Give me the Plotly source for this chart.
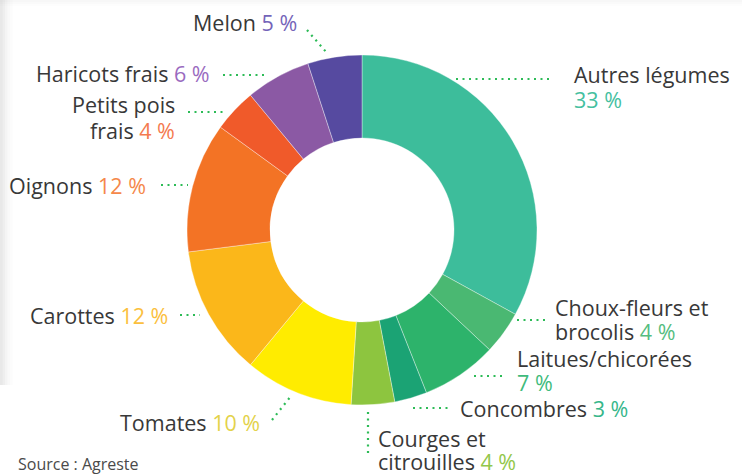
import plotly.graph_objects as go

W, H = 742, 474

# ---- data ----
categories = ["Autres légumes", "Choux-fleurs et brocolis", "Laitues/chicorées", "Concombres",
              "Courges et citrouilles", "Tomates", "Carottes", "Oignons",
              "Petits pois frais", "Haricots frais", "Melon"]
shares = [33, 4, 7, 3, 4, 10, 12, 12, 4, 6, 5]
label_lines = [["Autres légumes", ""], ["Choux-fleurs et", "brocolis"], ["Laitues/chicorées", ""],
               ["Concombres"], ["Courges et", "citrouilles"], ["Tomates"], ["Carottes"],
               ["Oignons"], ["Petits pois", "frais"], ["Haricots frais"], ["Melon"]]
slice_colors = ["#3dbd9b", "#4ab872", "#2db36b", "#1ba374", "#8dc53f", "#ffec00",
                "#fbb71a", "#f37325", "#f05a2a", "#8b59a4", "#564aa0"]
pct_colors = ["#45c09f", "#55bd80", "#3fbb7c", "#36b68a", "#92c74a", "#e3d24a",
              "#fbbf3e", "#f5884a", "#f47a4f", "#9a6bbf", "#7464b9"]

# ---- layout helpers (pixel -> paper) ----
def px(x):
    return x / W

def py(y):
    return 1 - y / H

cx, cy, r_out, r_in = 362, 230, 175, 92

fig = go.Figure(go.Pie(
    labels=categories, values=shares, sort=False, direction="clockwise", rotation=0,
    hole=r_in / r_out, textinfo="none", hoverinfo="label+percent",
    marker=dict(colors=slice_colors, line=dict(color="rgba(255,255,255,0.6)", width=0.6)),
    domain=dict(x=[px(cx - r_out), px(cx + r_out)], y=[py(cy + r_out), py(cy - r_out)]),
    showlegend=False,
))

# label placement: (x, y of first line, line gap, xanchor)
label_pos = [
    (572, 75, 25, "left"),
    (553, 307, 24, "left"),
    (515, 358, 24, "left"),
    (458, 408, 0, "left"),
    (376, 438, 23, "left"),
    (262, 422, 0, "right"),
    (170, 315, 0, "right"),
    (148, 185, 0, "right"),
    (177, 105, 25, "right"),
    (212, 74, 0, "right"),
    (299, 23, 0, "right"),
]
# leader lines (x0, y0, x1, y1)
leaders = [
    (456, 79, 551, 79),
    (517, 320, 545, 320),
    (474, 376, 505, 376),
    (413, 408, 448, 408),
    (368, 412, 368, 456),
    (272, 420, 291, 396),
    (180, 315, 200, 315),
    (161, 185, 188, 185),
    (188, 112, 224, 112),
    (223, 75, 266, 75),
    (307, 30, 327, 53),
]

FONT = "'Open Sans', Lato, sans-serif"
annotations = []
for lines, val, pc, (x, y, gap, xa) in zip(label_lines, shares, pct_colors, label_pos):
    n = len(lines)
    for i, line in enumerate(lines):
        txt = line
        if i == n - 1:
            txt = (line + " " if line else "") + f"<span style='color:{pc}'>{val} %</span>"
        annotations.append(dict(
            x=px(x), y=py(y + i * gap), xref="paper", yref="paper", xanchor=xa, yanchor="middle",
            showarrow=False, text=txt,
            font=dict(family=FONT, size=21.5, color="#383838"),
        ))
annotations.append(dict(
    x=px(16), y=py(464), xref="paper", yref="paper", xanchor="left", yanchor="middle",
    showarrow=False, text="Source : Agreste",
    font=dict(family=FONT, size=16, color="#4a4a4a"),
))

shapes = []
for (x0, y0, x1, y1) in leaders:
    shapes.append(dict(type="line", xref="paper", yref="paper",
                       x0=px(x0), y0=py(y0), x1=px(x1), y1=py(y1),
                       line=dict(color="#2dbb57", width=2.2, dash="2px,4.5px")))
# card shadow on left edge and top
for i, op in enumerate([0.14, 0.10, 0.065, 0.035, 0.015]):
    shapes.append(dict(type="rect", xref="paper", yref="paper", layer="below",
                       x0=px(i * 2.5), x1=px(i * 2.5 + 2.5), y0=py(385), y1=py(0),
                       fillcolor=f"rgba(90,90,90,{op})", line=dict(width=0)))
for i, op in enumerate([0.05, 0.03, 0.012]):
    shapes.append(dict(type="rect", xref="paper", yref="paper", layer="below",
                       x0=px(0), x1=px(742), y0=py(i * 2 + 2), y1=py(i * 2),
                       fillcolor=f"rgba(90,90,90,{op})", line=dict(width=0)))

fig.update_layout(
    width=W, height=H, margin=dict(l=0, r=0, t=0, b=0),
    paper_bgcolor="white", plot_bgcolor="white",
    annotations=annotations, shapes=shapes,
)

fig.write_html("out.html", config={"displayModeBar": False},
               post_script="document.body.style.margin='0';document.body.style.padding='0';document.body.style.overflow='hidden';")
